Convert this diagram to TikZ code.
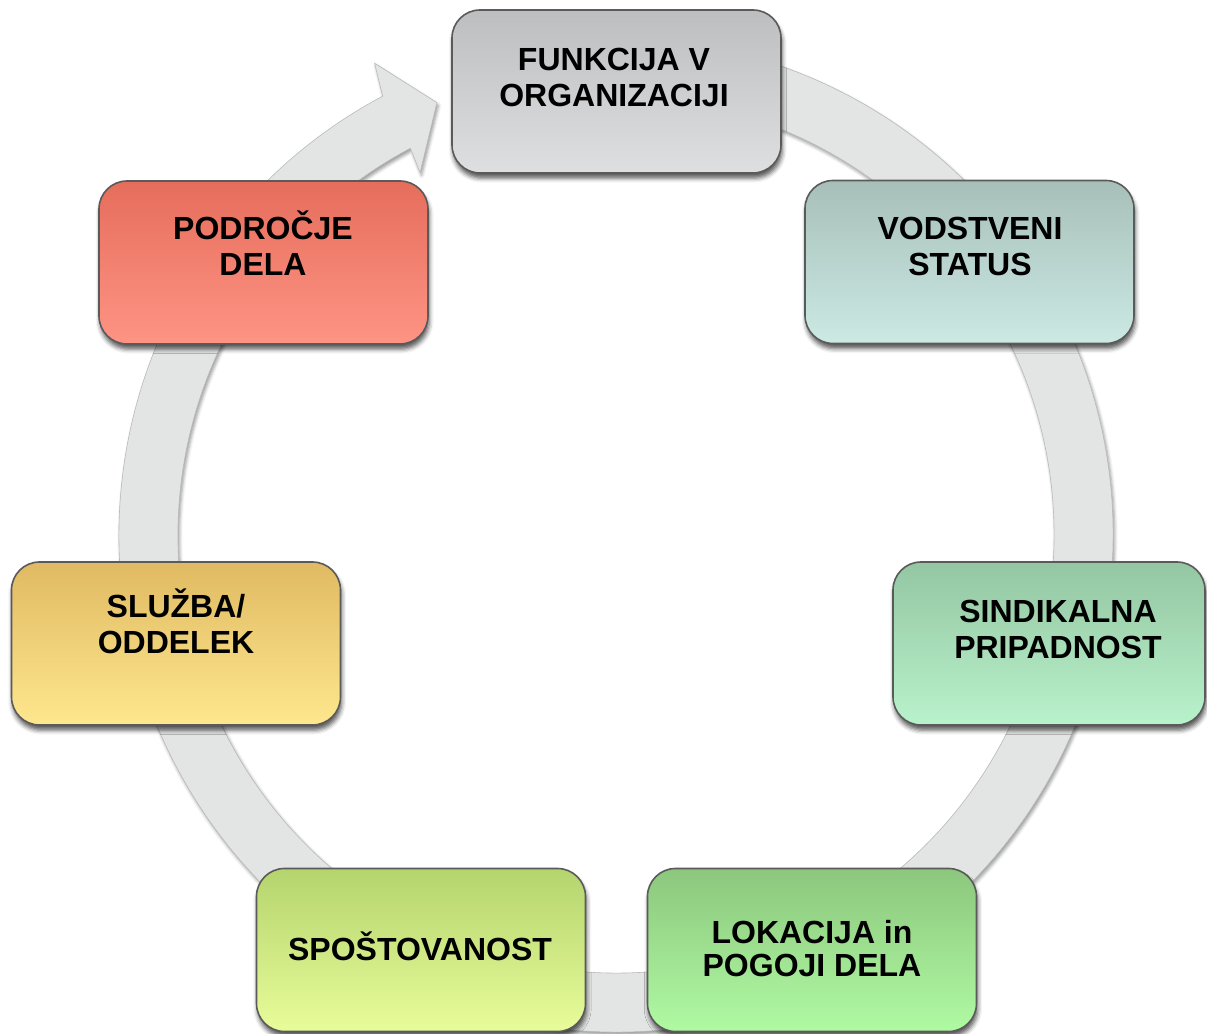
\documentclass[tikz,border=0pt]{standalone}
\usepackage{fontspec}
\setmainfont{Liberation Sans}
\usetikzlibrary{shadows.blur}

\definecolor{ringgray}{HTML}{E3E4E4}
\definecolor{ringedge}{HTML}{B9BABA}
\definecolor{boxedge}{HTML}{5A5A5A}

\tikzset{
  card/.style={rounded corners=14pt, draw=boxedge, line width=0.8pt,
    minimum width=164.5pt, minimum height=81.5pt, inner sep=0pt,
    blur shadow={shadow xshift=0.6pt, shadow yshift=-2.6pt,
      shadow blur radius=2.2pt, shadow opacity=65}},
  label/.style={font=\bfseries\fontsize{16}{18}\selectfont, align=center, inner sep=0pt},
  tight/.style={font=\bfseries\fontsize{16}{16.6}\selectfont},
}

\begin{document}
\begin{tikzpicture}[x=0.5pt, y=0.5pt]
\useasboundingbox (0,0) rectangle (1207,1034);

% circular arrow running clockwise behind the cards
\begin{scope}[shift={(616,499)}]
  \fill[ringgray, draw=ringedge, line width=0.3pt, line join=miter,
        blur shadow={shadow xshift=0.8pt, shadow yshift=-1.4pt,
          shadow blur radius=1.6pt, shadow opacity=40}]
    (80:497) arc[start angle=80, end angle=-242, radius=497]
    -- (117.1:530) -- (112.5:468) -- (118.4:412) -- (118:438)
    arc[start angle=-242, end angle=80, radius=438] -- cycle;
\end{scope}

% cards
\node[card, top color={rgb,255:red,189;green,190;blue,192}, bottom color={rgb,255:red,221;green,223;blue,224}]
  (funk) at (616.5,942.5) {};
\node[card, top color={rgb,255:red,167;green,191;blue,185}, bottom color={rgb,255:red,204;green,233;blue,227}]
  (vod) at (969.5,772) {};
\node[card, minimum width=156pt, top color={rgb,255:red,148;green,198;blue,162}, bottom color={rgb,255:red,184;green,242;blue,203}]
  (sind) at (1049,390.5) {};
\node[card, top color={rgb,255:red,140;green,199;blue,125}, bottom color={rgb,255:red,176;green,250;blue,163}]
  (lok) at (812,84) {};
\node[card, top color={rgb,255:red,180;green,212;blue,110}, bottom color={rgb,255:red,232;green,252;blue,154}]
  (spo) at (421,84) {};
\node[card, top color={rgb,255:red,224;green,186;blue,98}, bottom color={rgb,255:red,254;green,231;blue,142}]
  (slu) at (176,390.5) {};
\node[card, top color={rgb,255:red,230;green,109;blue,92}, bottom color={rgb,255:red,254;green,148;blue,132}]
  (pod) at (263.5,771.5) {};

% card texts
\node[label] (funkT) at (614,957) {FUNKCIJA V\\ORGANIZACIJI};
\node[label] (vodT) at (970,788) {VODSTVENI\\STATUS};
\node[label] (sindT) at (1058,405) {SINDIKALNA\\PRIPADNOST};
\node[label, tight] (lokT) at (812,85.5) {LOKACIJA in\\POGOJI DELA};
\node[label] (spoT) at (420,88) {SPOŠTOVANOST};
\node[label] (sluT) at (176,413) {SLUŽBA/\\ODDELEK};
\node[label] (podT) at (263,791) {PODROČJE\\DELA};
\end{tikzpicture}
\end{document}
